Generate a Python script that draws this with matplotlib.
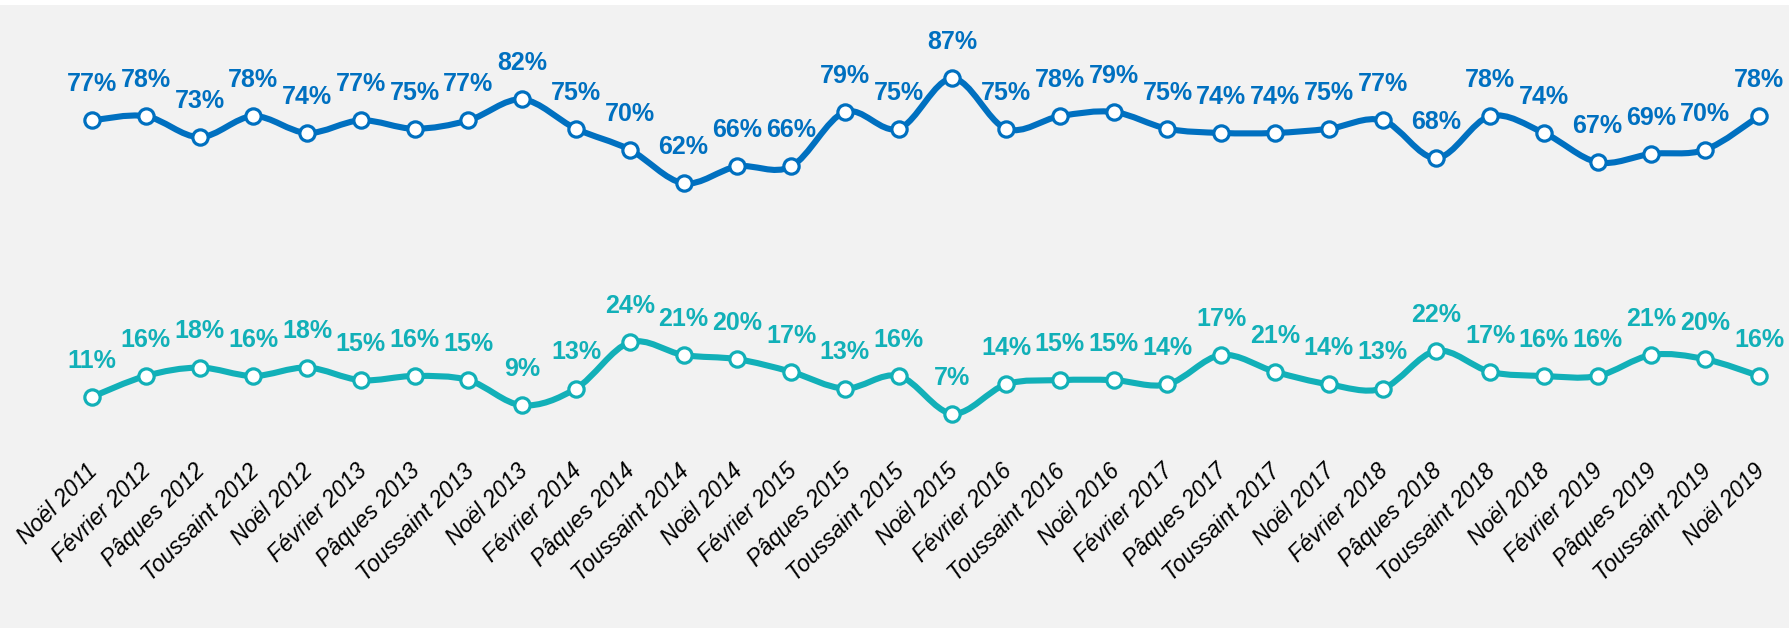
import numpy as np
import matplotlib
matplotlib.use("Agg")
import matplotlib.pyplot as plt
from matplotlib.path import Path
from matplotlib.patches import PathPatch, Rectangle
from matplotlib.transforms import ScaledTranslation

# données
periodes = [
    "Noël 2011", "Février 2012", "Pâques 2012", "Toussaint 2012",
    "Noël 2012", "Février 2013", "Pâques 2013", "Toussaint 2013",
    "Noël 2013", "Février 2014", "Pâques 2014", "Toussaint 2014",
    "Noël 2014", "Février 2015", "Pâques 2015", "Toussaint 2015",
    "Noël 2015", "Février 2016", "Toussaint 2016", "Noël 2016",
    "Février 2017", "Pâques 2017", "Toussaint 2017", "Noël 2017",
    "Février 2018", "Pâques 2018", "Toussaint 2018", "Noël 2018",
    "Février 2019", "Pâques 2019", "Toussaint 2019", "Noël 2019",
]
serie_haut = [77, 78, 73, 78, 74, 77, 75, 77, 82, 75, 70, 62, 66, 66, 79, 75,
              87, 75, 78, 79, 75, 74, 74, 75, 77, 68, 78, 74, 67, 69, 70, 78]
serie_bas = [11, 16, 18, 16, 18, 15, 16, 15, 9, 13, 24, 21, 20, 17, 13, 16,
             7, 14, 15, 15, 14, 21, 17, 14, 13, 22, 17, 16, 16, 21, 20, 16]
# étiquettes telles qu'affichées (Pâques / Toussaint 2017 inversées sur l'original)
etiquettes_haut = [f"{v}%" for v in serie_haut]
etiquettes_bas = ["11%", "16%", "18%", "16%", "18%", "15%", "16%", "15%",
                  "9%", "13%", "24%", "21%", "20%", "17%", "13%", "16%",
                  "7%", "14%", "15%", "15%", "14%", "17%", "21%", "14%",
                  "13%", "22%", "17%", "16%", "16%", "21%", "20%", "16%"]

BLEU = "#0070C0"
TURQUOISE = "#12B0B8"
FOND = "#F2F2F2"

W, H = 1790, 628


def courbe_lissee(x, y):
    """Chemin de Bézier type 'ligne lissée' Excel (Catmull-Rom)."""
    pts = np.column_stack([x, y]).astype(float)
    n = len(pts)
    verts = [pts[0]]
    codes = [Path.MOVETO]
    for i in range(n - 1):
        p0 = pts[max(i - 1, 0)]
        p1 = pts[i]
        p2 = pts[i + 1]
        p3 = pts[min(i + 2, n - 1)]
        verts += [p1 + (p2 - p0) / 6, p2 - (p3 - p1) / 6, p2]
        codes += [Path.CURVE4] * 3
    return Path(verts, codes)


fig = plt.figure(figsize=(W / 100, H / 100), dpi=100, facecolor=FOND)
fig.patches.append(Rectangle((0, 1 - 5 / H), 1, 5 / H, transform=fig.transFigure,
                             facecolor="white", edgecolor="none", zorder=0))

x0, dx = 92, (1759 - 92) / 31
gauche = (x0 - dx / 2) / W
largeur = 32 * dx / W
ax = fig.add_axes([gauche, (H - 443) / H, largeur, 419 / H])
ax.set_facecolor(FOND)
ax.set_xlim(-0.5, 31.5)
ax.set_ylim(0, 100)

x = np.arange(len(periodes))
for serie, etiquettes, couleur in [(serie_haut, etiquettes_haut, BLEU),
                                   (serie_bas, etiquettes_bas, TURQUOISE)]:
    ax.add_patch(PathPatch(courbe_lissee(x, serie), facecolor="none",
                           edgecolor=couleur, lw=4.4, capstyle="round",
                           joinstyle="round", zorder=2))
    ax.plot(x, serie, ls="none", marker="o", ms=11, mfc="white",
            mec=couleur, mew=2.3, zorder=3)
    for xi, v, t in zip(x, serie, etiquettes):
        ax.annotate(t, (xi, v), xytext=(0, 26), textcoords="offset points",
                    ha="center", va="center", color=couleur, fontsize=18,
                    fontweight="bold", family="Liberation Sans", zorder=4)

ax.set_xticks(x)
ax.set_xticklabels(periodes, rotation=45, ha="right", va="top",
                   rotation_mode="anchor", fontsize=16.5, fontstyle="italic",
                   family="Liberation Sans")
ax.tick_params(axis="x", length=0, pad=12)
decalage = ScaledTranslation(-6 / 100, 0, fig.dpi_scale_trans)
for lab in ax.get_xticklabels():
    lab.set_transform(lab.get_transform() + decalage)
ax.set_yticks([])
for s in ax.spines.values():
    s.set_visible(False)

fig.savefig("out.png", dpi=100, facecolor=FOND)
